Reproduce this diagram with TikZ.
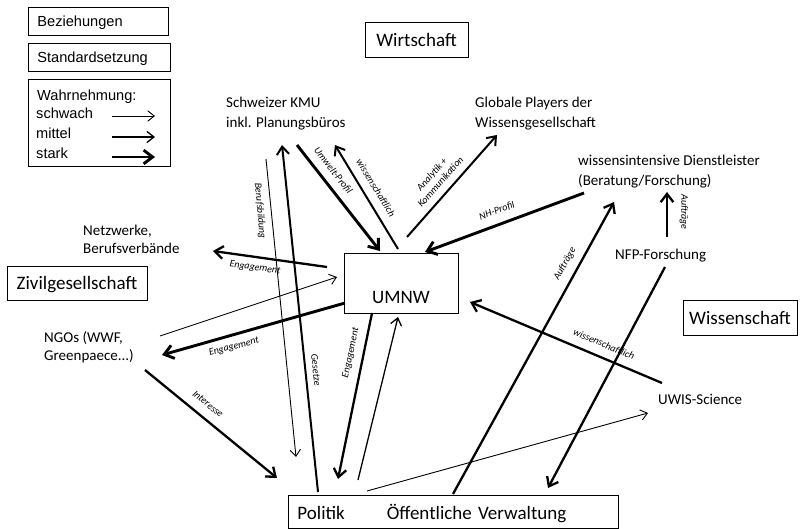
\documentclass[tikz,border=0pt]{standalone}
\usepackage{fontspec}
\setmainfont{Carlito}
\newfontfamily\legfont{Liberation Sans}
\usetikzlibrary{arrows.meta}
\begin{document}
\begin{tikzpicture}[x=1pt,y=-1pt,
  box/.style={draw, line width=0.9pt},
  boxtxt/.style={box, font=\fontsize{19}{22}\selectfont, text height=13.5pt, text depth=0pt, inner sep=0pt},
  legbox/.style={box, anchor=north west, inner xsep=9pt, inner ysep=0pt, align=left, minimum height=28pt, text height=10.5pt, text depth=0pt, font=\legfont\fontsize{14.6}{17}\selectfont},
  legtxt/.style={anchor=base west, inner sep=0pt, font=\legfont\fontsize{14.6}{17}\selectfont},
  lbl/.style={anchor=base west, inner sep=0pt, font=\fontsize{15}{20}\selectfont},
  lbltight/.style={anchor=base west, inner sep=0pt, font=\fontsize{15}{18}\selectfont},
  tag/.style={inner sep=0pt, font=\fontsize{10}{11.5}\selectfont\itshape},
  conn/.style={-{Straight Barb[length=5.5pt 1.2, width=9pt 1.6]}},
  weak/.style={conn, line width=0.9pt},
  fair/.style={conn, line width=1.3pt},
  mid/.style={conn, line width=2pt},
  midp/.style={conn, line width=2.3pt},
  strong/.style={conn, line width=2.9pt}]
\useasboundingbox (0,0) rectangle (800,529);

% legend
\node[legbox, minimum width=140pt, text width=122pt] (bez) at (28,7) {Beziehungen};
\node[legbox, minimum width=142pt, text width=124pt] (std) at (28,43) {Standardsetzung};
\node[box, anchor=north west, minimum width=142pt, minimum height=87pt, inner sep=0pt] (wahr) at (28,79) {};
\node[legtxt] (w0) at (37,101) {Wahrnehmung:};
\node[legtxt] (w1) at (36,119) {schwach};
\node[legtxt] (w2) at (36,139) {mittel};
\node[legtxt] (w3) at (36,159) {stark};
\coordinate (s1a) at (112,116); \coordinate (s1b) at (155,116);
\coordinate (s2a) at (112,137); \coordinate (s2b) at (155,137);
\coordinate (s3a) at (112,157); \coordinate (s3b) at (155,157);
\draw[weak] (s1a) -- (s1b);
\draw[fair] (s2a) -- (s2b);
\draw[strong] (s3a) -- (s3b);

% sector boxes
\node[boxtxt, minimum width=103pt, minimum height=35pt] (wirt) at (416.5,39.5) {Wirtschaft};
\node[boxtxt, minimum width=114pt, minimum height=35pt] (wiss) at (740,317.5) {Wissenschaft};
\node[boxtxt, minimum width=140pt, minimum height=34pt] (zivil) at (77,283) {Zivilgesellschaft};
\node[box, anchor=north, minimum width=114pt, inner xsep=0pt, inner ysep=0pt, text height=50pt, text depth=10pt, font=\fontsize{19}{22}\selectfont] (umnw) at (401,253) {UMNW};
\node[box, anchor=north west, inner xsep=9pt, inner ysep=0pt, text width=312pt, align=left, text height=24pt, text depth=9pt, font=\fontsize{19}{22}\selectfont] (pol) at (288,495) {Politik\hspace*{42pt}Öffentliche Verwaltung};

% actors
\node[lbl] (kmu) at (226,108) {\begin{tabular}[t]{@{}l@{}}Schweizer KMU\\inkl. Planungsbüros\end{tabular}};
\node[lbl] (glob) at (475,108) {\begin{tabular}[t]{@{}l@{}}Globale Players der\\Wissensgesellschaft\end{tabular}};
\node[lbl] (dienst) at (578,166) {\begin{tabular}[t]{@{}l@{}}wissensintensive Dienstleister\\(Beratung/Forschung)\end{tabular}};
\node[lbl] (nfp) at (615,259) {NFP-Forschung};
\node[lbltight] (netz) at (83,236) {\begin{tabular}[t]{@{}l@{}}Netzwerke,\\Berufsverbände\end{tabular}};
\node[lbltight] (ngo) at (44,342) {\begin{tabular}[t]{@{}l@{}}NGOs (WWF,\\Greenpaece...)\end{tabular}};
\node[lbl] (uwis) at (658,404) {UWIS-Science};

% connector end points
\coordinate (a1) at (327,267); \coordinate (b1) at (213,251);
\coordinate (a2) at (160,336); \coordinate (b2) at (337,277);
\coordinate (a3) at (345,303); \coordinate (b3) at (162,355);
\coordinate (a4) at (145,370); \coordinate (b4) at (277,478);
\coordinate (a5) at (266,159); \coordinate (b5) at (296,457);
\coordinate (a6) at (318,492); \coordinate (b6) at (282,145);
\coordinate (a7) at (297,145); \coordinate (b7) at (380,251);
\coordinate (a8) at (398,249); \coordinate (b8) at (335,145);
\coordinate (a9) at (407,237); \coordinate (b9) at (497,135);
\coordinate (a10) at (584,193); \coordinate (b10) at (425,252);
\coordinate (a11) at (453,494); \coordinate (b11) at (614,202);
\coordinate (a12) at (667,237); \coordinate (b12) at (667,192);
\coordinate (a13) at (665,267); \coordinate (b13) at (548,488);
\coordinate (a14) at (662,383); \coordinate (b14) at (470,302);
\coordinate (a15) at (367,491); \coordinate (b15) at (648,413);
\coordinate (a16) at (372,313); \coordinate (b16) at (338,479);
\coordinate (a17) at (358,480); \coordinate (b17) at (398,317);

% connectors
\draw[midp] (a1) -- (b1);
\draw[weak] (a2) -- (b2);
\draw[strong] (a3) -- (b3);
\draw[midp] (a4) -- (b4);
\draw[weak] (a5) -- (b5);
\draw[mid] (a6) -- (b6);
\draw[strong] (a7) -- (b7);
\draw[mid] (a8) -- (b8);
\draw[mid] (a9) -- (b9);
\draw[strong] (a10) -- (b10);
\draw[midp] (a11) -- (b11);
\draw[midp] (a12) -- (b12);
\draw[midp] (a13) -- (b13);
\draw[midp] (a14) -- (b14);
\draw[weak] (a15) -- (b15);
\draw[midp] (a16) -- (b16);
\draw[fair] (a17) -- (b17);

% connector labels
\node[tag, rotate=-8] (t1) at (255,268) {Engagement};
\node[tag, rotate=15] (t3) at (234,347) {Engagement};
\node[tag, rotate=-39] (t4) at (208,404) {Interesse};
\node[tag, rotate=-85] (t5) at (260,211) {Berufsbildung};
\node[tag, rotate=-84] (t6) at (316,370) {Gesetze};
\node[tag, rotate=-52] (t7) at (333,171) {Umwelt-Profil};
\node[tag, rotate=-58.5] (t8) at (376,188) {wissenschaftlich};
\node[tag, rotate=48.6, align=center] (t9) at (436,178) {Analytik +\\Kommunikation};
\node[tag, rotate=20.4] (t10) at (497,211) {NH-Profil};
\node[tag, rotate=61] (t11) at (565,264) {Aufträge};
\node[tag, rotate=-90] (t12) at (684,212) {Aufträge};
\node[tag, rotate=-23] (t14) at (604,344) {wissenschaftlich};
\node[tag, rotate=78] (t16) at (351,353) {Engagement};
\end{tikzpicture}
\end{document}
